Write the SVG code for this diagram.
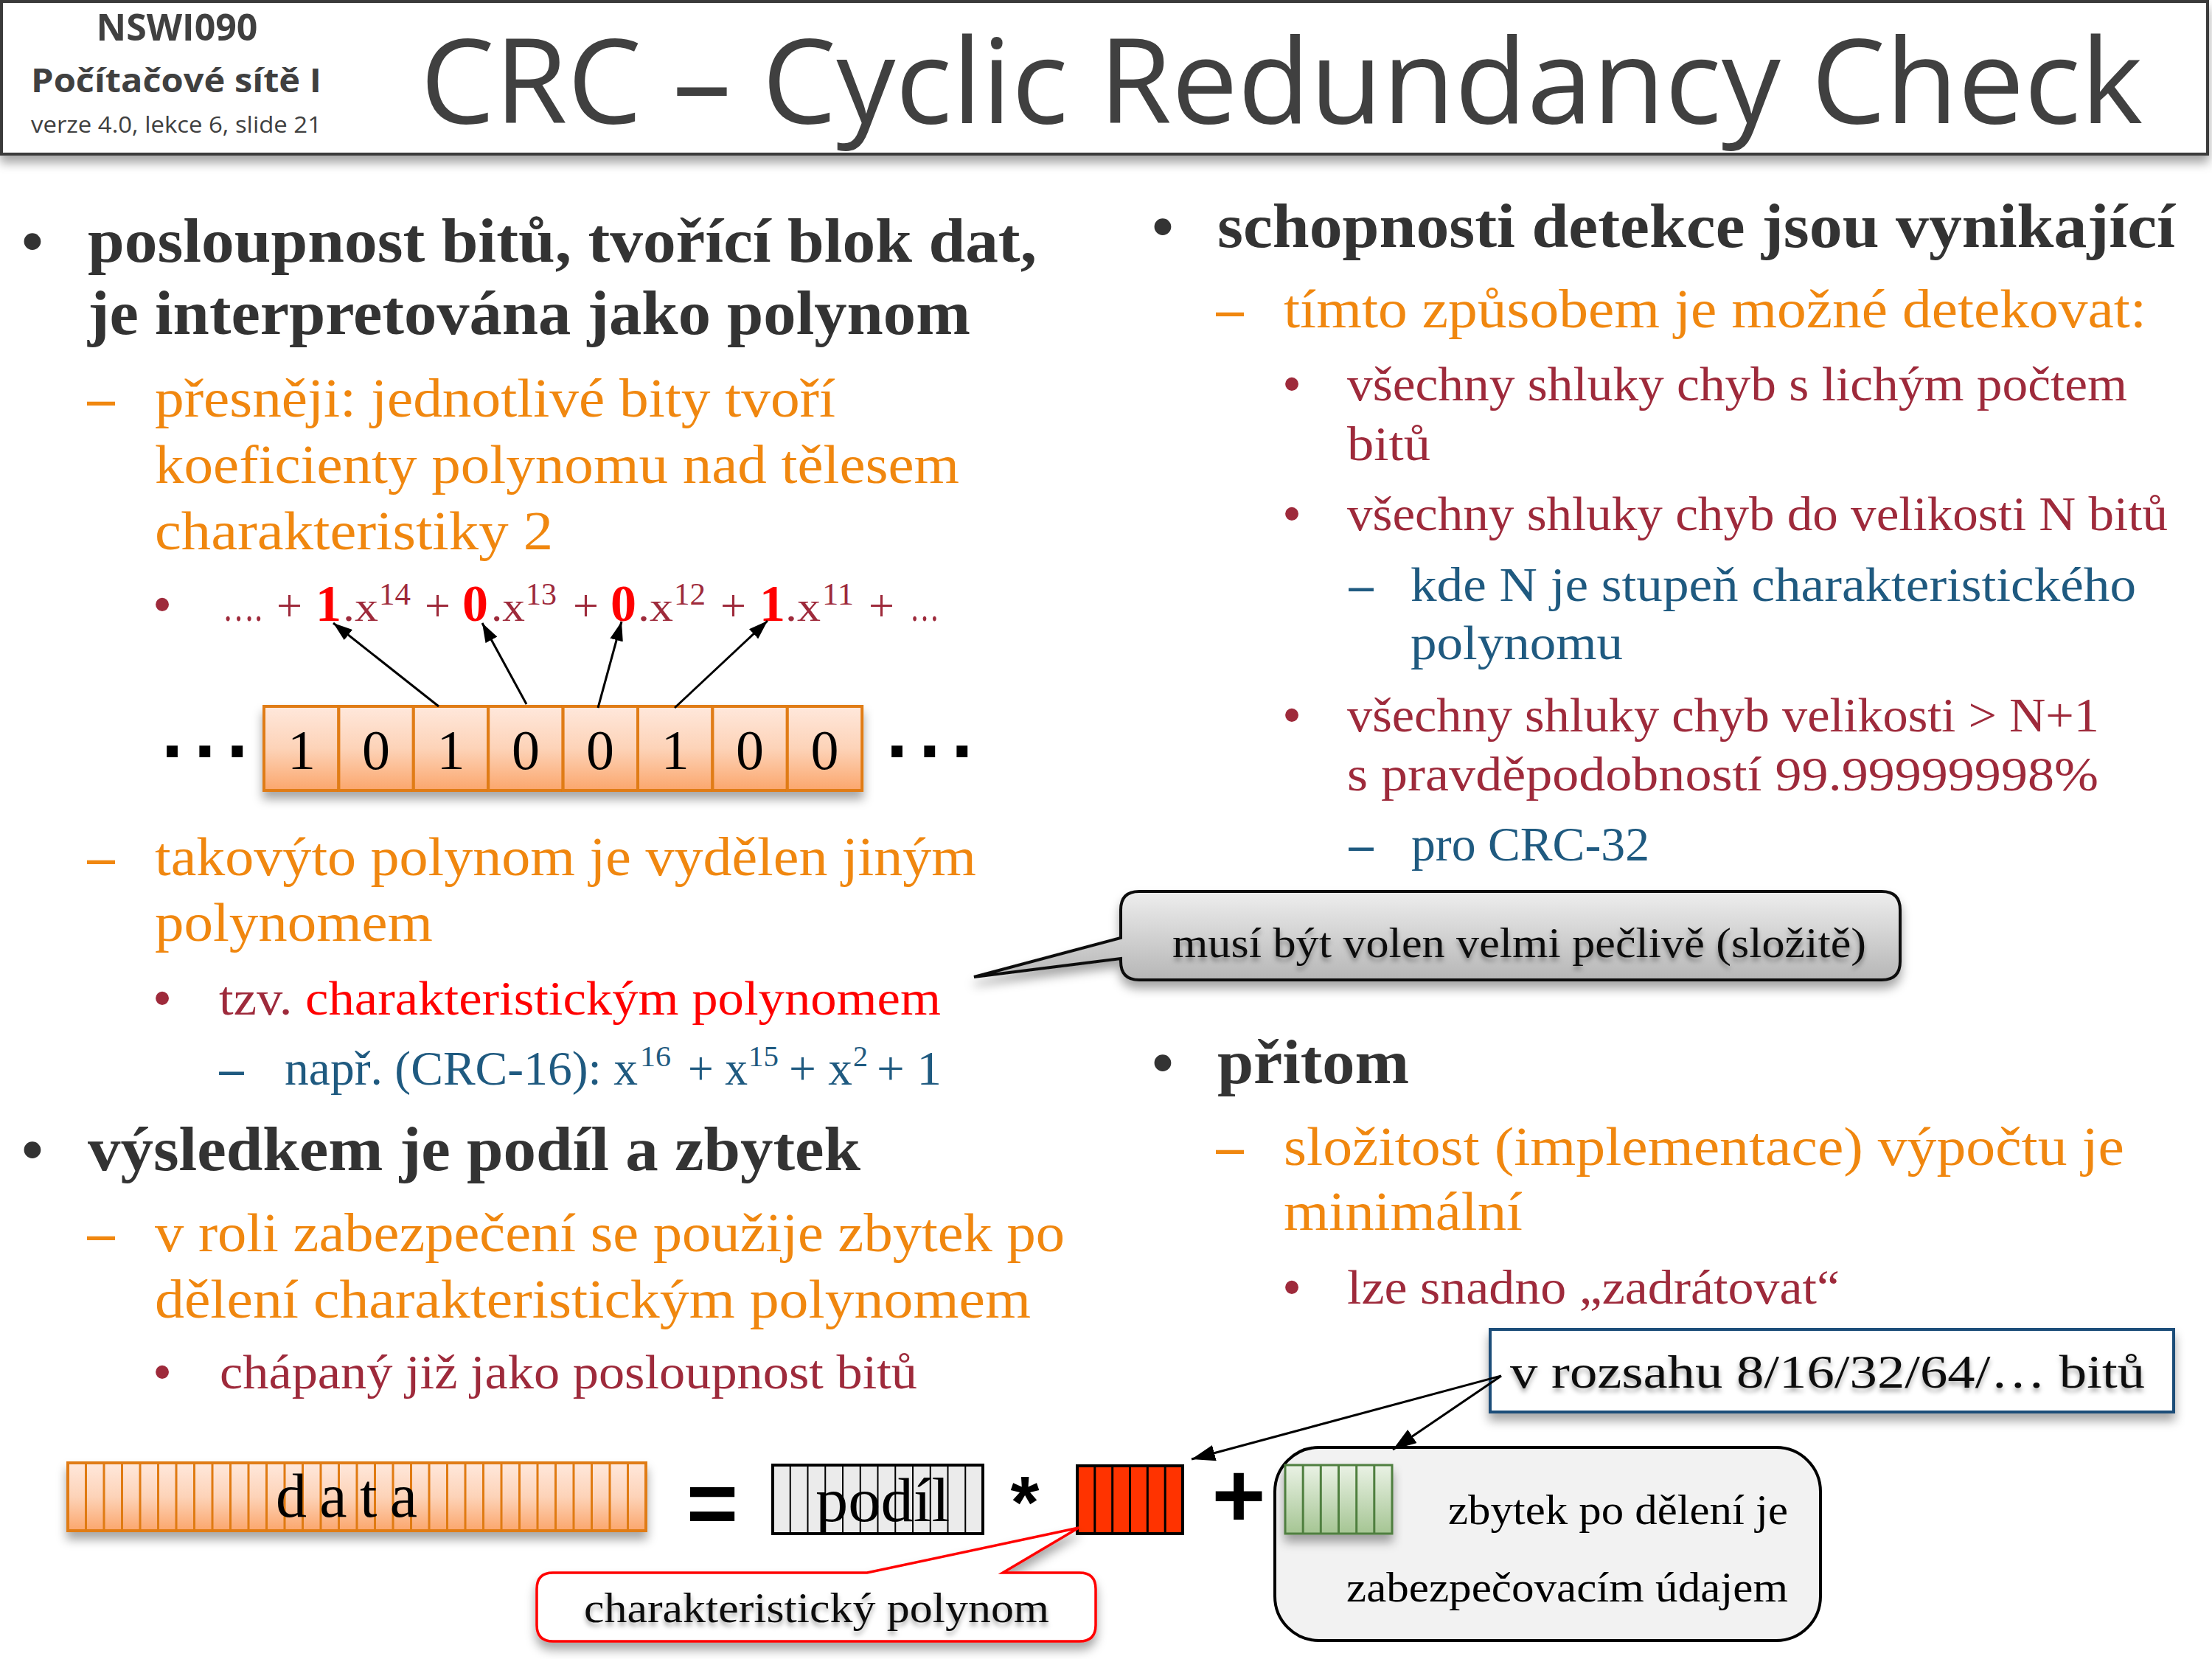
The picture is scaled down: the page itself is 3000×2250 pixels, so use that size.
<svg xmlns="http://www.w3.org/2000/svg" width="3000" height="2250" viewBox="0 0 3000 2250">
<style>
.t{font-family:"Liberation Serif","DejaVu Serif",serif}
.h{font-family:"Open Sans","Liberation Sans",sans-serif;fill:#404040}
.s{font-family:"Liberation Sans","DejaVu Sans",sans-serif}
.l1{font-weight:bold;font-size:84px;fill:#333}
.l2{font-size:74px;fill:#F0870F}
.l3{font-size:66px;fill:#9E2A3B}
.l4{font-size:66px;fill:#1F5A80}
.sup4{font-size:40px;fill:#1F5A80}
.red{fill:#FF0000}
.dg{font-size:76px;fill:#000;text-anchor:middle}
.fx{font-size:58px;fill:#9E2A3B}
.fp{font-size:62px;fill:#9E2A3B}
.fd{font-size:70px;font-weight:bold;fill:#FF0000}
.fs{font-size:42px;fill:#9E2A3B}
.blk{font-size:58px;fill:#111}
.cell{fill:url(#gOrange);stroke:#E07B12;stroke-width:4}
.conn{stroke:#000;stroke-width:3;fill:none}
</style>
<defs>
<linearGradient id="gOrange" x1="0" y1="0" x2="0" y2="1"><stop offset="0" stop-color="#FFE8DC"/><stop offset="0.5" stop-color="#FDD3B8"/><stop offset="1" stop-color="#FBA66C"/></linearGradient>
<linearGradient id="gGray" x1="0" y1="0" x2="0" y2="1"><stop offset="0" stop-color="#EEEEEE"/><stop offset="1" stop-color="#B6B6B6"/></linearGradient>
<linearGradient id="gGreen" x1="0" y1="0" x2="0" y2="1"><stop offset="0" stop-color="#EAF2E5"/><stop offset="1" stop-color="#A5C593"/></linearGradient>
<filter id="sh" x="-10%" y="-20%" width="120%" height="170%"><feDropShadow dx="0" dy="10" stdDeviation="7" flood-color="#000" flood-opacity="0.35"/></filter>
<filter id="tsh" x="-5%" y="-20%" width="110%" height="160%"><feDropShadow dx="0" dy="5" stdDeviation="3" flood-color="#000" flood-opacity="0.35"/></filter>
<marker id="ah" viewBox="0 0 10 10" refX="10" refY="5" markerUnits="userSpaceOnUse" markerWidth="26" markerHeight="18" preserveAspectRatio="none" orient="auto"><path d="M0,0L10,5L0,10z" fill="#000"/></marker>
<marker id="ah2" viewBox="0 0 10 10" refX="10" refY="5" markerUnits="userSpaceOnUse" markerWidth="32" markerHeight="22" preserveAspectRatio="none" orient="auto"><path d="M0,0L10,5L0,10z" fill="#000"/></marker>
</defs>
<rect width="3000" height="2250" fill="#fff"/>

<g id="header">
<rect x="2" y="2" width="2992" height="207" fill="#fff" stroke="#3a3a3a" stroke-width="4" filter="url(#sh)"/>
<text class="h" x="240" y="55" font-size="50" font-weight="bold" text-anchor="middle">NSWI090</text>
<text class="h" x="42" y="125" font-size="44" font-weight="bold" textLength="394" lengthAdjust="spacingAndGlyphs">Počítačové sítě I</text>
<text class="h" x="42" y="180" font-size="31" textLength="394" lengthAdjust="spacingAndGlyphs">verze 4.0, lekce 6, slide 21</text>
<text class="h" x="570" y="167" font-size="160" textLength="2336" lengthAdjust="spacingAndGlyphs">CRC – Cyclic Redundancy Check</text>
</g>

<g id="left-text" class="t">
<text class="s l1" x="44" y="355" text-anchor="middle" style="font-weight:normal">•</text>
<text class="l1" x="119" y="355" textLength="1287" lengthAdjust="spacingAndGlyphs">posloupnost bitů, tvořící blok dat,</text>
<text class="l1" x="119" y="453" textLength="1197" lengthAdjust="spacingAndGlyphs">je interpretována jako polynom</text>
<text class="l2" x="137" y="565" text-anchor="middle" font-weight="bold">–</text>
<text class="l2" x="210" y="565" textLength="923" lengthAdjust="spacingAndGlyphs">přesněji: jednotlivé bity tvoří</text>
<text class="l2" x="210" y="655" textLength="1091" lengthAdjust="spacingAndGlyphs">koeficienty polynomu nad tělesem</text>
<text class="l2" x="210" y="745" textLength="540" lengthAdjust="spacingAndGlyphs">charakteristiky 2</text>

<text class="l2" x="137" y="1187" text-anchor="middle" font-weight="bold">–</text>
<text class="l2" x="210" y="1187" textLength="1114" lengthAdjust="spacingAndGlyphs">takovýto polynom je vydělen jiným</text>
<text class="l2" x="210" y="1276" textLength="377" lengthAdjust="spacingAndGlyphs">polynomem</text>
<text class="s l3" x="220" y="1376" text-anchor="middle">•</text>
<text class="l3" x="297" y="1376" textLength="979" lengthAdjust="spacingAndGlyphs">tzv. <tspan class="red">charakteristickým polynomem</tspan></text>
<text class="l4" x="314" y="1471" text-anchor="middle" font-weight="bold">–</text>
<text class="l4" x="386" y="1471" textLength="479" lengthAdjust="spacingAndGlyphs">např. (CRC-16): x</text>
<text class="sup4" x="868" y="1446" textLength="42" lengthAdjust="spacingAndGlyphs">16</text>
<text class="l4" x="933" y="1471" textLength="81" lengthAdjust="spacingAndGlyphs">+ x</text>
<text class="sup4" x="1015" y="1446" textLength="41" lengthAdjust="spacingAndGlyphs">15</text>
<text class="l4" x="1070" y="1471" textLength="86" lengthAdjust="spacingAndGlyphs">+ x</text>
<text class="sup4" x="1157" y="1446">2</text>
<text class="l4" x="1189" y="1471" textLength="88" lengthAdjust="spacingAndGlyphs">+ 1</text>

<text class="s l1" x="44" y="1587" text-anchor="middle" style="font-weight:normal">•</text>
<text class="l1" x="119" y="1587" textLength="1048" lengthAdjust="spacingAndGlyphs">výsledkem je podíl a zbytek</text>
<text class="l2" x="137" y="1697" text-anchor="middle" font-weight="bold">–</text>
<text class="l2" x="210" y="1697" textLength="1234" lengthAdjust="spacingAndGlyphs">v roli zabezpečení se použije zbytek po</text>
<text class="l2" x="210" y="1787" textLength="1188" lengthAdjust="spacingAndGlyphs">dělení charakteristickým polynomem</text>
<text class="s l3" x="220" y="1883" text-anchor="middle">•</text>
<text class="l3" x="298" y="1883" textLength="946" lengthAdjust="spacingAndGlyphs">chápaný již jako posloupnost bitů</text>
</g>

<g id="formula" class="t">
<text class="s l3" x="220" y="842" text-anchor="middle">•</text>
<text class="fx" x="302" y="842" textLength="54" lengthAdjust="spacingAndGlyphs">….</text>
<text class="fp" x="375" y="842">+</text>
<text class="fd" x="428" y="842">1</text>
<text class="fx" x="465" y="842" textLength="48" lengthAdjust="spacingAndGlyphs">.x</text>
<text class="fs" x="514" y="820" textLength="43" lengthAdjust="spacingAndGlyphs">14</text>
<text class="fp" x="576" y="842">+</text>
<text class="fd" x="627" y="842">0</text>
<text class="fx" x="666" y="842" textLength="46" lengthAdjust="spacingAndGlyphs">.x</text>
<text class="fs" x="713" y="820" textLength="42" lengthAdjust="spacingAndGlyphs">13</text>
<text class="fp" x="777" y="842">+</text>
<text class="fd" x="828" y="842">0</text>
<text class="fx" x="865" y="842" textLength="48" lengthAdjust="spacingAndGlyphs">.x</text>
<text class="fs" x="914" y="820" textLength="43" lengthAdjust="spacingAndGlyphs">12</text>
<text class="fp" x="977" y="842">+</text>
<text class="fd" x="1030" y="842">1</text>
<text class="fx" x="1065" y="842" textLength="48" lengthAdjust="spacingAndGlyphs">.x</text>
<text class="fs" x="1115" y="820" textLength="43" lengthAdjust="spacingAndGlyphs">11</text>
<text class="fp" x="1178" y="842">+</text>
<text class="fx" x="1234" y="842" textLength="40" lengthAdjust="spacingAndGlyphs">…</text>
</g>

<g id="bits">
<g filter="url(#sh)">
<rect class="cell" x="358" y="958" width="101.4" height="114"/>
<rect class="cell" x="459.4" y="958" width="101.4" height="114"/>
<rect class="cell" x="560.8" y="958" width="101.4" height="114"/>
<rect class="cell" x="662.2" y="958" width="101.4" height="114"/>
<rect class="cell" x="763.6" y="958" width="101.4" height="114"/>
<rect class="cell" x="865" y="958" width="101.4" height="114"/>
<rect class="cell" x="966.4" y="958" width="101.4" height="114"/>
<rect class="cell" x="1067.8" y="958" width="101.4" height="114"/>
</g>
<g class="t">
<text class="dg" x="409" y="1043">1</text>
<text class="dg" x="510" y="1043">0</text>
<text class="dg" x="611.5" y="1043">1</text>
<text class="dg" x="713" y="1043">0</text>
<text class="dg" x="814" y="1043">0</text>
<text class="dg" x="915.7" y="1043">1</text>
<text class="dg" x="1017" y="1043">0</text>
<text class="dg" x="1118.5" y="1043">0</text>
</g>
<text class="s" x="219" y="1027" font-size="105" font-weight="bold" letter-spacing="15" fill="#000">...</text>
<text class="s" x="1202" y="1027" font-size="105" font-weight="bold" letter-spacing="15" fill="#000">...</text>
</g>

<g id="right-text" class="t">
<text class="s l1" x="1577" y="335" text-anchor="middle" style="font-weight:normal">•</text>
<text class="l1" x="1651" y="335" textLength="1299" lengthAdjust="spacingAndGlyphs">schopnosti detekce jsou vynikající</text>
<text class="l2" x="1668" y="444" text-anchor="middle" font-weight="bold">–</text>
<text class="l2" x="1741" y="444" textLength="1170" lengthAdjust="spacingAndGlyphs">tímto způsobem je možné detekovat:</text>
<text class="s l3" x="1752" y="543" text-anchor="middle">•</text>
<text class="l3" x="1827" y="543" textLength="1058" lengthAdjust="spacingAndGlyphs">všechny shluky chyb s lichým počtem</text>
<text class="l3" x="1827" y="624" textLength="113" lengthAdjust="spacingAndGlyphs">bitů</text>
<text class="s l3" x="1752" y="719" text-anchor="middle">•</text>
<text class="l3" x="1827" y="719" textLength="1113" lengthAdjust="spacingAndGlyphs">všechny shluky chyb do velikosti N bitů</text>
<text class="l4" x="1846" y="815" text-anchor="middle" font-weight="bold">–</text>
<text class="l4" x="1913" y="815" textLength="984" lengthAdjust="spacingAndGlyphs">kde N je stupeň charakteristického</text>
<text class="l4" x="1913" y="894" textLength="288" lengthAdjust="spacingAndGlyphs">polynomu</text>
<text class="s l3" x="1752" y="992" text-anchor="middle">•</text>
<text class="l3" x="1827" y="992" textLength="1020" lengthAdjust="spacingAndGlyphs">všechny shluky chyb velikosti &gt; N+1</text>
<text class="l3" x="1827" y="1072" textLength="1019" lengthAdjust="spacingAndGlyphs">s pravděpodobností 99.99999998%</text>
<text class="l4" x="1846" y="1167" text-anchor="middle" font-weight="bold">–</text>
<text class="l4" x="1914" y="1167" textLength="323" lengthAdjust="spacingAndGlyphs">pro CRC-32</text>

<text class="s l1" x="1577" y="1469" text-anchor="middle" style="font-weight:normal">•</text>
<text class="l1" x="1651" y="1469" textLength="260" lengthAdjust="spacingAndGlyphs">přitom</text>
<text class="l2" x="1668" y="1580" text-anchor="middle" font-weight="bold">–</text>
<text class="l2" x="1741" y="1580" textLength="1140" lengthAdjust="spacingAndGlyphs">složitost (implementace) výpočtu je</text>
<text class="l2" x="1741" y="1668" textLength="324" lengthAdjust="spacingAndGlyphs">minimální</text>
<text class="s l3" x="1752" y="1768" text-anchor="middle">•</text>
<text class="l3" x="1827" y="1768" textLength="668" lengthAdjust="spacingAndGlyphs">lze snadno „zadrátovat“</text>
</g>

<g id="callout-choose">
<path d="M1545,1209H2552Q2577,1209 2577,1234V1304Q2577,1329 2552,1329H1545Q1520,1329 1520,1304V1300L1321,1325L1520,1272V1234Q1520,1209 1545,1209Z" fill="url(#gGray)" stroke="#111" stroke-width="4" filter="url(#sh)"/>
<text class="t blk" x="1590" y="1298" font-size="60" textLength="941" lengthAdjust="spacingAndGlyphs" filter="url(#tsh)">musí být volen velmi pečlivě (složitě)</text>
</g>

<g id="data-block">
<g filter="url(#sh)">
<rect x="92" y="1984" width="784" height="92" fill="url(#gOrange)" stroke="#E07B12" stroke-width="4"/>
</g>
<path d="M116.5,1984V2076M141,1984V2076M165.5,1984V2076M190,1984V2076M214.5,1984V2076M239,1984V2076M263.5,1984V2076M288,1984V2076M312.5,1984V2076M337,1984V2076M361.5,1984V2076M386,1984V2076M410.5,1984V2076M435,1984V2076M459.5,1984V2076M484,1984V2076M508.5,1984V2076M533,1984V2076M557.5,1984V2076M582,1984V2076M606.5,1984V2076M631,1984V2076M655.5,1984V2076M680,1984V2076M704.5,1984V2076M729,1984V2076M753.5,1984V2076M778,1984V2076M802.5,1984V2076M827,1984V2076M851.5,1984V2076" stroke="#E07B12" stroke-width="3"/>
<text class="t" x="374" y="2057" font-size="84" fill="#000" textLength="192" lengthAdjust="spacing">data</text>
</g>

<g id="operators" class="s" font-weight="bold" fill="#000">
<text x="966" y="2080" font-size="120" text-anchor="middle">=</text>
<text x="1390" y="2072" font-size="100" text-anchor="middle">*</text>
<text x="1680" y="2071" font-size="125" text-anchor="middle">+</text>
</g>

<g id="podil-block">
<rect x="1048" y="1987" width="285" height="93" fill="#EBEBEB" stroke="#000" stroke-width="4"/>
<path d="M1071.75,1987V2080M1095.5,1987V2080M1119.25,1987V2080M1143,1987V2080M1166.75,1987V2080M1190.5,1987V2080M1214.25,1987V2080M1238,1987V2080M1261.75,1987V2080M1285.5,1987V2080M1309.25,1987V2080" stroke="#000" stroke-width="2"/>
<text class="t" x="1106" y="2063" font-size="85" fill="#000" textLength="182" lengthAdjust="spacingAndGlyphs">podíl</text>
</g>

<g id="poly-block">
<rect x="1461" y="1988" width="143" height="92" fill="#FF3300" stroke="#000" stroke-width="4"/>
<path d="M1484.8,1988V2080M1508.7,1988V2080M1532.5,1988V2080M1556.3,1988V2080M1580.2,1988V2080" stroke="#000" stroke-width="3"/>
</g>

<g id="callout-poly">
<path d="M750,2133H1176L1463,2072L1360,2133H1464Q1486,2133 1486,2155V2204Q1486,2226 1464,2226H750Q728,2226 728,2204V2155Q728,2133 750,2133Z" fill="#fff" stroke="#FF0000" stroke-width="3.5" filter="url(#sh)"/>
<text class="t blk" x="792" y="2200" textLength="631" lengthAdjust="spacingAndGlyphs" filter="url(#tsh)">charakteristický polynom</text>
</g>

<g id="remainder-box">
<rect x="1729" y="1963" width="740" height="262" rx="60" ry="60" fill="#F2F2F2" stroke="#000" stroke-width="4"/>
<g filter="url(#sh)">
<rect x="1743" y="1987" width="145" height="93" fill="url(#gGreen)" stroke="#4F7F3F" stroke-width="3"/>
</g>
<path d="M1767.2,1987V2080M1791.3,1987V2080M1815.5,1987V2080M1839.7,1987V2080M1863.8,1987V2080" stroke="#4F7F3F" stroke-width="3"/>
<text class="t" x="1964" y="2067" font-size="56" fill="#000" textLength="461" lengthAdjust="spacingAndGlyphs">zbytek po dělení je</text>
<text class="t" x="1826" y="2172" font-size="56" fill="#000" textLength="599" lengthAdjust="spacingAndGlyphs">zabezpečovacím údajem</text>
</g>

<g id="range-box">
<rect x="2021" y="1803" width="927" height="112" fill="#fff" stroke="#1F4E79" stroke-width="4" filter="url(#sh)"/>
<text class="t" x="2048" y="1882" font-size="64" fill="#111" textLength="861" lengthAdjust="spacingAndGlyphs" filter="url(#tsh)">v rozsahu 8/16/32/64/… bitů</text>
</g>

<g id="connectors">
<line class="conn" x1="595" y1="958" x2="452" y2="845" marker-end="url(#ah)"/>
<line class="conn" x1="714" y1="955" x2="654" y2="845" marker-end="url(#ah)"/>
<line class="conn" x1="811" y1="960" x2="843" y2="843" marker-end="url(#ah)"/>
<line class="conn" x1="915" y1="960" x2="1041" y2="842" marker-end="url(#ah)"/>
<line class="conn" x1="2036" y1="1866" x2="1616" y2="1979" marker-end="url(#ah2)"/>
<line class="conn" x1="2036" y1="1866" x2="1889" y2="1966" marker-end="url(#ah2)"/>
</g>
</svg>
